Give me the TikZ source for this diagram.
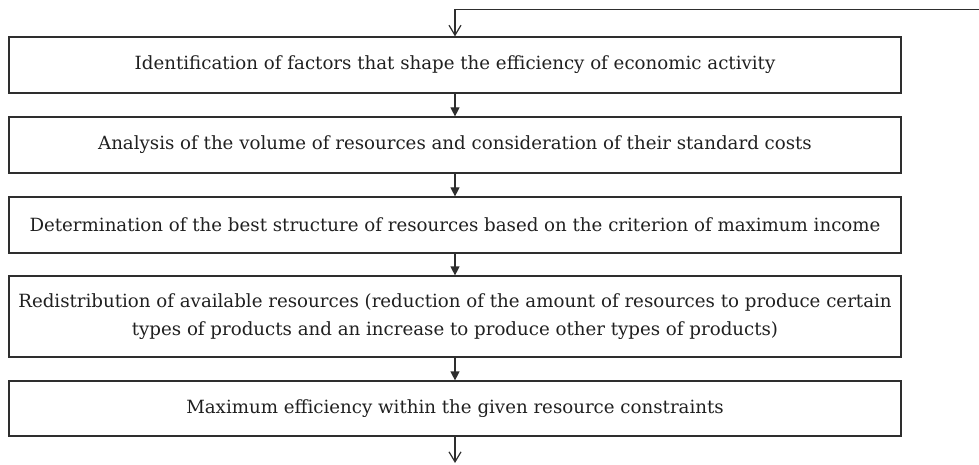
\documentclass[tikz,border=0pt]{standalone}
\usepackage{fontspec}
\setmainfont{DejaVu Serif}
\usetikzlibrary{arrows.meta}
\definecolor{ln}{HTML}{2E2E2E}
\definecolor{tx}{HTML}{202020}
\begin{document}
\begin{tikzpicture}[x=1pt,y=1pt,
  stepbox/.style={draw=ln,line width=1.2pt,minimum width=892pt,inner sep=0pt,
    align=center,text=tx,font=\fontsize{18.2}{28.5}\selectfont},
  flow/.style={draw=ln,line width=1.2pt,-{Triangle[width=9pt,length=9pt]}},
  openflow/.style={draw=ln,line width=1.2pt,-{Straight Barb[width=12pt,length=10pt,line width=1.2pt]}}]
\useasboundingbox (0,0) rectangle (979,464);
\node[stepbox,minimum height=56pt] (b1) at (455,399) {Identification of factors that shape the efficiency of economic activity};
\node[stepbox,minimum height=56pt] (b2) at (455,319) {Analysis of the volume of resources and consideration of their standard costs};
\node[stepbox,minimum height=56pt] (b3) at (455,239) {Determination of the best structure of resources based on the criterion of maximum income};
\node[stepbox,minimum height=81pt] (b4) at (455,147.5) {Redistribution of available resources (reduction of the amount of resources to produce certain\\types of products and an increase to produce other types of products)};
\node[stepbox,minimum height=55pt] (b5) at (455,55.5) {Maximum efficiency within the given resource constraints};
\coordinate (fb) at (979,454.7);
\coordinate (out) at (455,1);
\draw[openflow] (fb) -| (b1.north);
\draw[flow] (b1) -- (b2);
\draw[flow] (b2) -- (b3);
\draw[flow] (b3) -- (b4);
\draw[flow] (b4) -- (b5);
\draw[openflow] (b5) -- (out);
\end{tikzpicture}
\end{document}
